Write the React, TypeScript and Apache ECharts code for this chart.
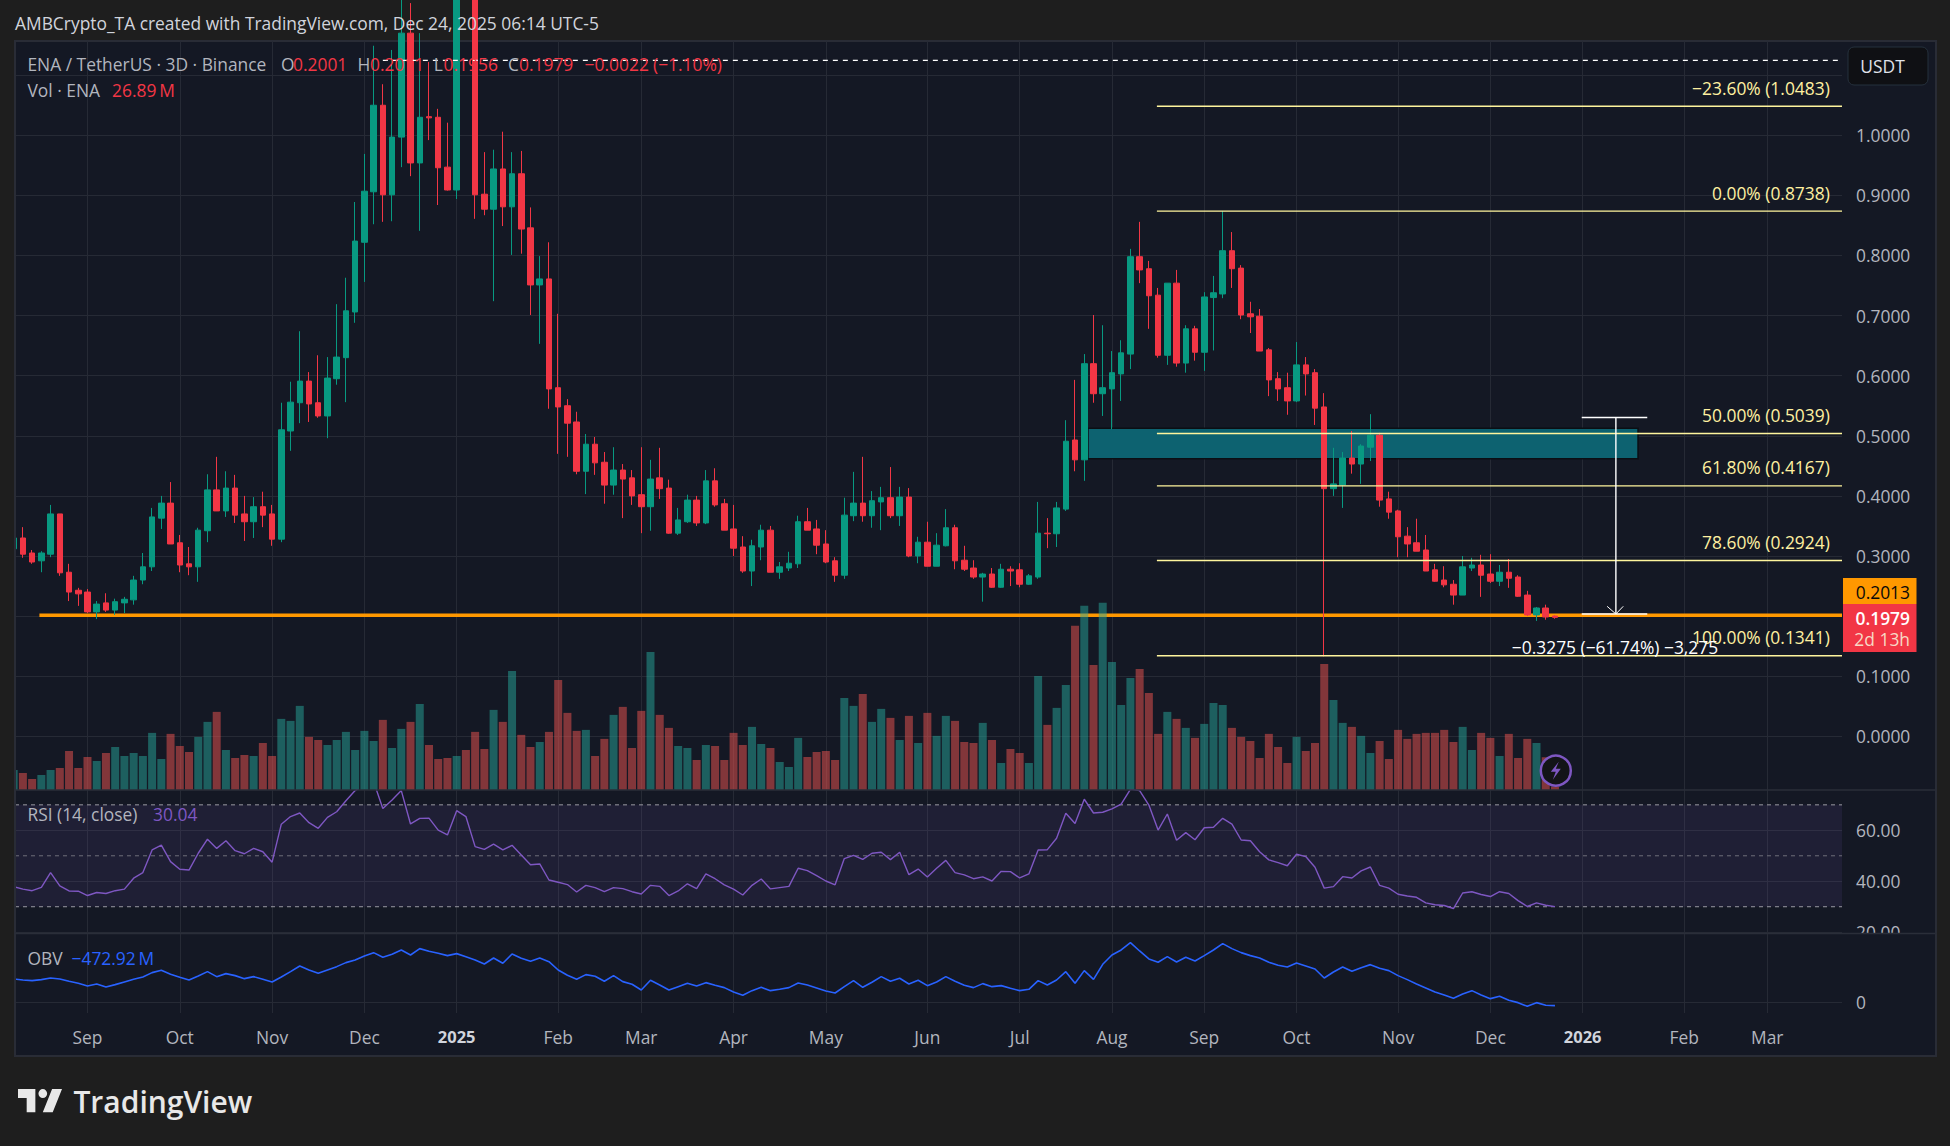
import React, { useEffect, useRef } from "react";
import * as echarts from "echarts";

const opens = [
  .312,.330,.305,.292,.303,.370,.273,.243,.240,.207,
  .222,.210,.222,.227,.260,.282,.363,.388,.322,.287,
  .282,.342,.410,.375,.413,.370,.357,.382,.370,.328,
  .508,.555,.591,.555,.533,.595,.630,.706,.822,.906,
  1.050,.901,.997,1.17,.954,1.031,1.030,.947,.909,1.27,
  1.24,.902,.877,.944,.881,.936,.846,.751,.761,.580,
  .550,.523,.441,.486,.456,.418,.443,.430,.402,.382,
  .430,.413,.338,.357,.393,.355,.425,.387,.345,.315,
  .275,.315,.343,.273,.280,.287,.357,.345,.320,.292,
  .268,.367,.388,.367,.390,.397,.367,.398,.300,.323,
  .283,.317,.347,.293,.280,.265,.270,.248,.278,.277,
  .253,.265,.338,.337,.378,.493,.460,.620,.570,.578,
  .603,.636,.798,.778,.734,.634,.754,.621,.678,.639,
  .730,.736,.808,.779,.703,.699,.643,.595,.580,.558,
  .618,.605,.548,.412,.418,.463,.453,.481,.501,.395,
  .375,.333,.322,.310,.277,.260,.253,.235,.280,.285,
  .270,.258,.273,.265,.235,.202,.2135,.2001,
];
const closes = [
  .330,.303,.290,.305,.370,.272,.240,.237,.207,.220,
  .210,.224,.228,.260,.282,.365,.388,.320,.285,.282,
  .343,.410,.375,.413,.368,.357,.382,.368,.328,.510,
  .556,.591,.553,.533,.596,.631,.708,.824,.907,1.050,
  .901,.997,1.17,.954,1.030,1.029,.946,.909,1.27,1.24,
  .901,.877,.944,.881,.936,.844,.751,.761,.578,.548,
  .521,.441,.486,.455,.418,.443,.428,.400,.382,.428,
  .412,.338,.360,.393,.355,.425,.385,.343,.313,.275,
  .317,.343,.273,.282,.288,.357,.343,.318,.290,.268,
  .368,.388,.367,.392,.397,.367,.398,.300,.323,.283,
  .318,.347,.292,.278,.265,.270,.248,.278,.275,.253,
  .267,.338,.337,.380,.491,.460,.620,.570,.580,.605,
  .638,.798,.776,.733,.634,.754,.621,.678,.639,.731,
  .738,.808,.778,.701,.698,.641,.593,.578,.558,.618,
  .603,.546,.412,.420,.463,.453,.483,.501,.393,.373,
  .332,.320,.308,.275,.258,.252,.235,.282,.285,.268,
  .258,.273,.263,.233,.202,.2135,.1985,.1979,
];
const lows = [
  .305,.297,.287,.273,.298,.267,.225,.217,.205,.195,
  .207,.202,.205,.219,.253,.275,.345,.320,.273,.268,
  .257,.323,.375,.365,.355,.325,.330,.348,.317,.323,
  .475,.521,.523,.530,.496,.585,.556,.688,.756,.852,
  .856,.857,.947,.932,.841,.992,.884,.908,.894,1.18,
  .861,.867,.724,.849,.801,.803,.701,.653,.545,.470,
  .465,.436,.403,.435,.387,.402,.363,.385,.338,.342,
  .395,.337,.335,.355,.350,.353,.382,.343,.300,.272,
  .250,.293,.273,.262,.275,.280,.343,.303,.288,.257,
  .262,.358,.357,.347,.343,.363,.350,.298,.288,.283,
  .283,.316,.278,.275,.262,.224,.247,.247,.250,.248,
  .252,.262,.313,.315,.375,.441,.425,.555,.533,.511,
  .558,.611,.754,.678,.630,.618,.615,.605,.625,.608,
  .642,.729,.746,.694,.671,.641,.566,.558,.535,.556,
  .567,.518,.133,.400,.380,.437,.420,.458,.382,.362,
  .298,.298,.308,.275,.257,.248,.219,.235,.275,.232,
  .255,.250,.247,.232,.200,.192,.194,.1956,
];
const highs = [
  .335,.348,.310,.308,.385,.370,.287,.247,.245,.225,
  .238,.229,.232,.267,.305,.380,.400,.423,.335,.315,
  .347,.436,.465,.441,.435,.400,.398,.407,.385,.555,
  .590,.674,.606,.634,.631,.719,.763,.889,.969,1.149,
  1.085,1.142,1.25,1.22,1.17,1.122,1.044,1.021,1.30,1.32,
  1.26,.972,.976,1.006,.972,.974,.880,.799,.822,.703,
  .561,.540,.503,.498,.473,.481,.453,.443,.481,.460,
  .480,.427,.380,.402,.400,.443,.446,.395,.385,.333,
  .327,.352,.350,.290,.307,.367,.380,.360,.343,.298,
  .397,.440,.465,.408,.415,.448,.415,.413,.332,.357,
  .338,.378,.352,.317,.293,.272,.280,.287,.283,.288,
  .270,.390,.363,.390,.526,.593,.636,.701,.684,.641,
  .659,.811,.856,.791,.746,.754,.776,.684,.683,.739,
  .766,.874,.839,.784,.723,.711,.646,.606,.605,.656,
  .631,.611,.571,.480,.473,.508,.486,.536,.505,.407,
  .377,.348,.362,.335,.287,.283,.260,.300,.297,.302,
  .303,.285,.295,.268,.242,.215,.219,.2011,
];
const volumes = [
  160,136,88,120,160,176,312,176,264,232,
  296,344,272,296,272,457,248,449,352,304,
  425,545,625,320,256,280,272,376,272,569,
  553,673,425,400,360,400,465,320,473,392,
  561,336,489,545,689,360,248,256,272,320,
  465,328,641,545,953,441,344,384,465,881,
  617,473,481,272,409,601,665,336,633,1105,
  601,497,352,336,240,360,352,240,457,360,
  505,368,336,224,184,417,264,304,312,240,
  737,673,769,545,649,577,400,593,376,617,
  433,593,553,384,376,537,400,216,328,296,
  216,913,521,657,841,1314,1474,1001,1498,1025,
  681,897,969,777,449,625,569,497,417,529,
  697,681,497,425,392,256,449,344,216,425,
  312,376,1009,721,537,505,433,296,392,248,
  481,409,449,457,457,481,384,505,320,457,
  417,272,449,256,409,376,262,26.89,
];
const rsiValues = [
  37.9,36.9,36.3,37.6,43.4,38.2,36.2,36.1,34.4,35.6,
  35.2,36.3,36.9,41.2,43.4,52.3,54.2,47.7,44.7,44.4,
  51.0,56.5,52.9,55.9,52.0,50.8,52.9,51.6,47.5,62.4,
  65.4,66.8,63.0,60.8,65.1,67.3,71.6,75.6,77.8,79.1,
  68.6,71.9,75.6,62.5,64.7,64.8,60.1,58.2,67.7,65.4,
  53.6,52.5,54.6,52.3,54.1,50.3,46.5,46.8,40.5,39.6,
  38.7,35.8,38.4,37.5,35.9,37.5,37.1,35.9,35.0,38.4,
  38.0,34.4,36.2,39.0,37.1,42.9,41.0,38.6,36.9,34.6,
  38.4,40.9,37.0,37.5,38.0,45.1,44.2,42.2,40.1,38.6,
  48.9,50.2,48.6,51.0,51.4,48.5,51.4,42.6,44.8,41.7,
  45.1,48.2,43.4,42.5,41.0,41.7,40.1,43.9,43.8,41.3,
  42.9,52.3,52.4,56.9,66.7,62.7,72.2,66.8,67.1,68.4,
  70.3,76.1,75.6,69.9,60.1,66.4,56.1,59.1,56.3,61.0,
  61.2,64.7,62.4,56.2,55.9,51.6,48.4,47.3,46.1,50.6,
  49.7,45.5,37.3,37.9,41.8,41.3,44.1,45.6,38.4,37.3,
  34.9,34.2,33.7,31.5,30.8,30.5,29.3,35.4,35.9,34.8,
  34.0,35.9,35.2,32.4,30.1,31.5,30.6,30.04,
];
const obvValues = [
  3311,3169,3075,3216,3453,3311,2980,2696,2318,2602,
  2176,2507,2885,3264,3595,4210,4541,3973,3548,3169,
  3737,4352,3642,4068,3784,3358,3642,3264,2885,3595,
  4352,5156,4588,4115,4588,5061,5629,6007,6575,7048,
  6386,6811,7426,6717,7615,7237,6953,6622,6906,6480,
  6007,5440,6291,5534,6859,6244,5818,6291,5771,4588,
  3831,3264,3926,3689,2980,3784,2933,2554,1750,3122,
  2460,1750,2223,2696,2318,2791,2412,2081,1466,993,
  1656,2129,1656,1845,2081,2743,2460,2034,1608,1324,
  2223,3075,2129,2838,3642,2980,3406,2602,3122,2365,
  2885,3642,2980,2412,2081,2649,2223,2365,1987,1656,
  1845,3075,2460,3169,4352,2696,4494,3264,5392,6717,
  7426,8467,7284,6149,5676,6480,5723,6386,5865,6622,
  7426,8325,7615,7048,6622,6291,5676,5250,5014,5581,
  5156,4730,3453,4304,5014,4399,4919,5345,4825,4494,
  3784,3216,2602,2034,1466,1041,568,1183,1656,1041,
  520,851,284,-47,-568,-47,-426,-472.92,
];

const timeTickIndex = [8,18,28,38,48,59,68,78,88,99,109,119,129,139,150,160,170,181,190];
const timeTickLabels = ["Sep","Oct","Nov","Dec","2025","Feb","Mar","Apr","May","Jun","Jul","Aug","Sep","Oct","Nov","Dec","2026","Feb","Mar"];
const priceTicks = [0,0.1,0.2,0.3,0.4,0.5,0.6,0.7,0.8,0.9,1.0,1.1];
const priceLabelTicks = [0,0.1,0.3,0.4,0.5,0.6,0.7,0.8,0.9,1.0];
const rsiTicks = [20,40,60];
const rsiGuides = [70,50,30];
const obvTicks = [0];
const fibLevels = [1.0483,0.8738,0.5039,0.4167,0.2924,0.1341];
const fibNames = ["\u221223.60% (1.0483)","0.00% (0.8738)","50.00% (0.5039)","61.80% (0.4167)","78.60% (0.2924)","100.00% (0.1341)"];
const supportLevel = 0.2013;
const lastHighLevel = 1.1247;
const zoneTop = 0.5125;
const zoneBottom = 0.462;
const measureTop = 0.5305;
const measureBottom = 0.2035;

// x axis is the bar number; these are its visible limits and annotation anchors
const xMin = 0.145;
const xMax = 198.1;
const highStart = 40;
const fibStart = 123.87;
const zoneStart = 116.4;
const zoneEnd = 176.0;
const supportStart = 2.79;
const measureX = 173.6;
const measureCapL = 169.9;
const measureCapR = 177.0;

const UP = "#089981";
const DOWN = "#f23645";
const FONT = '"Open Sans", "Noto Sans", sans-serif';
const OUTER = "#1e1e1e";
const PANEL = "#141824";
const GRID = "#262a35";
const LABEL = "#b2b5be";
const FIB = "#fff59d";
const TS = 17.4;

echarts.graphic.registerShape(
  "tvlogo",
  echarts.graphic.extendPath(
    "M14 22H7V11H0V4h14v18zM28 22h-8l7.5-18h8L28 22zM20 11a3.5 3.5 0 1 0 0-7 3.5 3.5 0 0 0 0 7z",
    {}
  )
);

function txt(x: number, y: number, text: string, fill: string, size = TS, align = "left", weight = "normal", z = 60) {
  return {
    type: "text",
    x,
    y,
    z,
    silent: true,
    style: { text, fill, align, verticalAlign: "middle", font: `${weight} ${size}px ${FONT}` },
  };
}

function hline(name: string, x0: number, x1: number, v: number, color: string, width: number, z: number, dash?: number[], gridIdx = 0) {
  return {
    type: "line",
    name,
    xAxisIndex: gridIdx,
    yAxisIndex: gridIdx,
    data: [[x0, v], [x1, v]],
    showSymbol: false,
    silent: true,
    z,
    lineStyle: { color, width, type: dash || "solid" },
  };
}

function xAxisOf(gridIndex: number, labels: boolean) {
  return {
    type: "value",
    gridIndex,
    min: xMin,
    max: xMax,
    axisLine: { show: false },
    axisTick: { show: false, customValues: timeTickIndex },
    splitLine: { show: gridIndex !== 1, lineStyle: { color: GRID, width: 1 } },
    axisLabel: labels
      ? {
          show: true,
          customValues: timeTickIndex,
          margin: 15,
          color: LABEL,
          fontSize: TS,
          fontFamily: FONT,
          formatter: (v: number) => {
            const s = timeTickLabels[timeTickIndex.indexOf(v)] || "";
            return /^\d+$/.test(s) ? `{y|${s}}` : s;
          },
          rich: { y: { color: "#d1d4dc", fontSize: 16.5, fontWeight: "bold", fontFamily: FONT } },
        }
      : { show: false },
  };
}

function yAxisOf(gridIndex: number, min: number, max: number, ticks: number[] | null, labelTicks: number[] | null, digits: number) {
  return {
    type: "value",
    gridIndex,
    min,
    max,
    position: "right",
    axisLine: { show: false },
    axisTick: { show: false, ...(ticks ? { customValues: ticks } : {}) },
    splitLine: { show: !!ticks, lineStyle: { color: GRID, width: 1 } },
    axisLabel: labelTicks
      ? {
          show: true,
          customValues: labelTicks,
          margin: 14,
          color: LABEL,
          fontSize: TS,
          fontFamily: FONT,
          formatter: (v: number) => v.toFixed(digits),
        }
      : { show: false },
  };
}

export default function App() {
  const ref = useRef<HTMLDivElement>(null);
  useEffect(() => {
    const chart = echarts.init(ref.current!, null, { renderer: "svg" });
    const idx = opens.map((_, i) => i);
    const candles = idx.map((i) => [i, opens[i], closes[i], lows[i], highs[i]]);
    const vols = idx.map((i) => ({
      value: [i, volumes[i]],
      itemStyle: { color: closes[i] >= opens[i] ? "rgba(38,166,154,0.5)" : "rgba(239,83,80,0.5)" },
    }));
    const left = 15;
    const width = 1827;
    chart.setOption({
      animation: false,
      backgroundColor: OUTER,
      grid: [
        { left, width, top: 41, height: 749 },
        { left, width, top: 540, height: 250 },
        { left, width, top: 790, height: 143 },
        { left, width, top: 933, height: 80 },
      ],
      xAxis: [xAxisOf(0, false), xAxisOf(1, false), xAxisOf(2, false), xAxisOf(3, true)],
      yAxis: [
        yAxisOf(0, -0.08935, 1.1569, priceTicks, priceLabelTicks, 4),
        yAxisOf(1, 0, 2000, null, null, 0),
        yAxisOf(2, 19.69, 75.83, rsiTicks, rsiTicks, 2),
        yAxisOf(3, -1518, 9834, obvTicks, obvTicks, 0),
      ],
      series: [
        {
          type: "line",
          name: "zone",
          xAxisIndex: 0,
          yAxisIndex: 0,
          data: [[zoneStart, zoneTop], [zoneEnd, zoneBottom]],
          showSymbol: false,
          silent: true,
          lineStyle: { width: 0, opacity: 0 },
          z: 1,
          markArea: {
            silent: true,
            itemStyle: { color: "#0d6270", borderColor: "#0b0f14", borderWidth: 1.5 },
            data: [[{ xAxis: zoneStart, yAxis: zoneTop }, { xAxis: zoneEnd, yAxis: zoneBottom }]],
          },
        },
        hline("support", supportStart, xMax, supportLevel, "#ff9800", 3.4, 1),
        {
          type: "bar",
          name: "Vol",
          xAxisIndex: 1,
          yAxisIndex: 1,
          data: vols,
          barWidth: 8,
          z: 2,
          silent: true,
        },
        {
          type: "candlestick",
          name: "ENA",
          xAxisIndex: 0,
          yAxisIndex: 0,
          data: candles,
          barWidth: 6,
          z: 3,
          silent: true,
          itemStyle: { color: UP, color0: DOWN, borderColor: UP, borderColor0: DOWN, borderWidth: 1 },
        },
        hline("high", highStart, xMax, lastHighLevel, "#ffffff", 1.2, 4, [5, 5]),
        ...fibLevels.map((v, i) => hline("fib" + i, fibStart, xMax, v, FIB, 1.4, 4)),
        hline("capTop", measureCapL, measureCapR, measureTop, "#ffffff", 1.4, 5),
        hline("capBottom", measureCapL, measureCapR, measureBottom, "#ffffff", 1.4, 5),
        {
          type: "line",
          name: "measure",
          xAxisIndex: 0,
          yAxisIndex: 0,
          data: [[measureX, measureTop], [measureX, measureBottom]],
          showSymbol: false,
          silent: true,
          z: 5,
          lineStyle: { color: "#ffffff", width: 1.4 },
        },
        {
          type: "line",
          name: "arrow",
          xAxisIndex: 0,
          yAxisIndex: 0,
          data: [[measureX - 0.95, measureBottom + 0.0128], [measureX, measureBottom], [measureX + 0.8, measureBottom + 0.0128]],
          showSymbol: false,
          silent: true,
          z: 5,
          lineStyle: { color: "#ffffff", width: 1 },
        },
        {
          type: "line",
          name: "RSI",
          xAxisIndex: 2,
          yAxisIndex: 2,
          data: idx.map((i) => [i, rsiValues[i]]),
          showSymbol: false,
          silent: true,
          z: 4,
          lineStyle: { color: "#7e57c2", width: 1.4 },
          markArea: {
            silent: true,
            itemStyle: { color: "rgba(126,87,194,0.11)" },
            data: [[{ xAxis: xMin, yAxis: rsiGuides[0] }, { xAxis: xMax, yAxis: rsiGuides[2] }]],
          },
        },
        ...rsiGuides.map((v, i) => hline("guide" + i, xMin, xMax, v, i === 1 ? "#6f6f78" : "#9a9aa2", 1, 3, [4, 4], 2)),
        {
          type: "line",
          name: "OBV",
          xAxisIndex: 3,
          yAxisIndex: 3,
          data: idx.map((i) => [i, obvValues[i]]),
          showSymbol: false,
          silent: true,
          z: 4,
          lineStyle: { color: "#2962ff", width: 1.6 },
        },
      ],
      graphic: {
        elements: [
          { type: "rect", z: -2, silent: true, shape: { x: 15, y: 41, width: 1921, height: 1015 }, style: { fill: PANEL, stroke: "#292c36", lineWidth: 2 } },
          { type: "rect", z: 50, silent: true, shape: { x: 0, y: 41, width: 14, height: 1016 }, style: { fill: OUTER } },
          { type: "line", z: 51, silent: true, shape: { x1: 15, y1: 41, x2: 15, y2: 1056 }, style: { stroke: "#292c36", lineWidth: 2 } },
          { type: "rect", z: 50, silent: true, shape: { x: 1843, y: 934, width: 90, height: 12 }, style: { fill: PANEL } },
          { type: "line", z: 51, silent: true, shape: { x1: 15, y1: 790, x2: 1935, y2: 790 }, style: { stroke: "#2a2e39", lineWidth: 1.5 } },
          { type: "line", z: 51, silent: true, shape: { x1: 15, y1: 933.5, x2: 1935, y2: 933.5 }, style: { stroke: "#2a2e39", lineWidth: 1.5 } },

          txt(15, 23, "AMBCrypto_TA created with TradingView.com, Dec 24, 2025 06:14 UTC-5", "#d1d4dc"),

          txt(27.4, 64, "ENA / TetherUS \u00b7 3D \u00b7 Binance", LABEL),
          txt(281, 64, "O", LABEL),
          txt(293, 64, "0.2001", DOWN),
          txt(357.4, 64, "H", LABEL),
          txt(370, 64, "0.2011", DOWN),
          txt(433.7, 64, "L", LABEL),
          txt(443.6, 64, "0.1956", DOWN),
          txt(508, 64, "C", LABEL),
          txt(519, 64, "0.1979", DOWN),
          txt(584.6, 64, "\u22120.0022", DOWN),
          txt(653, 64, "(\u22121.10%)", DOWN),
          txt(27.4, 90, "Vol \u00b7 ENA", LABEL),
          txt(112, 90, "26.89\u2009M", DOWN),
          txt(27.4, 814, "RSI (14, close)", LABEL),
          txt(153, 814, "30.04", "#7e57c2"),
          txt(27.4, 957.7, "OBV", LABEL),
          txt(71.5, 957.7, "\u2212472.92\u2009M", "#2962ff"),

          txt(1829.8, 88, fibNames[0], "#fff0a0", TS, "right"),
          txt(1829.8, 193, fibNames[1], "#fff0a0", TS, "right"),
          txt(1829.8, 414.7, fibNames[2], "#fff0a0", TS, "right"),
          txt(1829.8, 467, fibNames[3], "#fff0a0", TS, "right"),
          txt(1829.8, 541.7, fibNames[4], "#fff0a0", TS, "right"),
          txt(1829.8, 636.7, fibNames[5], "#fff0a0", TS, "right"),
          txt(1615, 646.7, "\u22120.3275 (\u221261.74%) \u22123,275", "#ffffff", TS, "center"),

          { type: "rect", z: 55, silent: true, shape: { x: 1848, y: 47, width: 80, height: 38, r: 6 }, style: { fill: "#0f1014", stroke: "#25303c", lineWidth: 1 } },
          txt(1882.5, 66, "USDT", "#e0e3eb", TS, "center"),

          { type: "rect", z: 55, silent: true, shape: { x: 1843, y: 578, width: 73.5, height: 26 }, style: { fill: "#ff9800" } },
          txt(1910, 591.7, "0.2013", "#0a0a0a", TS, "right"),
          { type: "rect", z: 55, silent: true, shape: { x: 1843, y: 604, width: 73.5, height: 48 }, style: { fill: DOWN } },
          txt(1910, 617.7, "0.1979", "#ffffff", TS, "right", "600"),
          txt(1910, 639, "2d 13h", "#f7d9c4", TS, "right"),

          { type: "circle", z: 56, silent: true, shape: { cx: 1555.8, cy: 770.7, r: 15 }, style: { fill: "#131418", stroke: "#7e57c2", lineWidth: 2.5 } },
          { type: "polygon", z: 57, silent: true, shape: { points: [[1558.8, 761.7], [1550.8, 771.7], [1555.8, 771.7], [1552.8, 779.7], [1560.8, 768.7], [1555.8, 768.7]] }, style: { fill: "#7e57c2" } },

          { type: "tvlogo", z: 60, silent: true, x: 18, y: 1084, scaleX: 1.24, scaleY: 1.28, style: { fill: "#e8e8e8" } },
          txt(73.4, 1101.7, "TradingView", "#e8e8e8", 30, "left", "600"),
        ],
      },
    });
    return () => chart.dispose();
  }, []);
  return <div ref={ref} style={{ position: "fixed", left: 0, top: 0, width: 1950, height: 1146 }} />;
}
